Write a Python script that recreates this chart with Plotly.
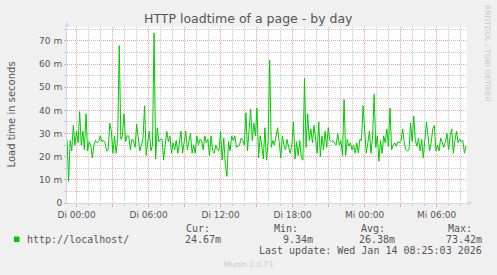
import pandas as pd
import plotly.graph_objects as go

# ---- data (milliseconds), 4 consecutive segments ----
seg1 = [27.5, 9.34, 27, 22.5, 33.5, 25, 31, 26, 39.5, 25, 31, 23, 38.5, 22.5, 26.5, 25,
        19.5, 25, 27, 26, 26.5, 29, 26.5, 27, 26, 22.5, 23, 34.5, 31, 21.5, 29, 21.5,
        27.5, 68, 27.5, 29, 38.5, 26.5, 29, 29, 23, 27.5, 27, 24, 34, 29, 22.5, 25, 28,
        42, 20.5, 26.5, 31, 22.5, 25, 73.42, 19, 32.5, 26.5, 27.5, 27.5, 18.5, 24, 31, 26.5]
seg2 = [29, 21.5, 26, 23, 27, 21.5, 26, 31, 21.5, 26.5, 31, 23, 27.5, 30, 21.5, 25, 21.5,
        29, 25, 27.5, 27, 23, 29, 26, 27.5, 20.5, 29, 22.5, 21.5, 25, 23, 22.5, 31, 18.5,
        28, 16.5, 11.5, 26.5, 22.5, 29, 27, 29, 24, 24.5, 25, 28, 27, 25, 39, 22.5, 31,
        40.5, 27, 34.5, 29, 41, 19.5, 29, 25, 19, 32.5, 18.5, 26.5]
seg3 = [61.7, 24, 27, 25, 29, 32.5, 26.5, 19.5, 29, 25, 23, 27.5, 24, 21.5, 25, 35, 19,
        26.5, 20.5, 27, 19.5, 18.5, 53.8, 24, 38.5, 27, 32, 26, 33.5, 26, 21.5, 35, 20,
        29, 23, 31, 24, 32.5, 27, 26.5, 27, 26, 25, 30, 25, 27, 20.5, 44.7, 20.5, 27.5,
        24.5, 26, 23, 25, 21.5, 26, 21.5, 27.5, 27, 42, 29, 21.5]
seg4 = [26, 31, 21.5, 29, 47, 24, 29, 18, 27, 21.5, 29, 26, 32, 24.5, 41, 23, 25, 26,
        24.5, 26.5, 26, 27, 32, 26, 23, 22.5, 23, 34.5, 26.5, 37.5, 27, 24.5, 28, 22.5,
        27.5, 19.5, 27, 35, 29, 22.5, 26, 32, 33.5, 22.5, 25, 22.5, 28, 26, 24, 26.5, 30,
        23, 29, 32, 21.5, 27, 31, 26, 27.5, 26.5, 27, 21.5, 24.67]
load_ms = seg1 + seg2 + seg3 + seg4

t_start = pd.Timestamp("2026-01-12 23:12")
t_end = pd.Timestamp("2026-01-14 08:32")
times = pd.date_range(t_start, t_end - pd.Timedelta(minutes=5), periods=len(load_ms))

x_tick_times = pd.date_range("2026-01-13 00:00", "2026-01-14 06:00", freq="3h")
x_tick_labels = ["Di 00:00", "", "Di 06:00", "", "Di 12:00", "", "Di 18:00", "",
                 "Mi 00:00", "", "Mi 06:00"]
y_tick_vals = [0, 10, 20, 30, 40, 50, 60, 70]
y_tick_labels = ["0", "10 m", "20 m", "30 m", "40 m", "50 m", "60 m", "70 m"]

series_name = "http://localhost/"
stat_names = ["Cur:", "Min:", "Avg:", "Max:"]
stat_values = ["24.67m", "9.34m", "26.38m", "73.42m"]
last_update = "Last update: Wed Jan 14 08:25:03 2026"

# ---- figure ----
W, H = 497, 275
L, R, T, B = 67, 467, 27, 203


def px(x):
    return (x - L) / (R - L)


def py(y):
    return (B - y) / (B - T)


RED = "#F0A0A0"
GRAY = "#C8C8C8"
AXIS = "#CFD6F8"
FONT = "#555555"

fig = go.Figure()
fig.add_trace(go.Scatter(x=times, y=load_ms, mode="lines",
                         line=dict(color="#00CC00", width=1), name=series_name,
                         showlegend=False))

fig.update_layout(
    width=W, height=H,
    margin=dict(l=L, r=W - R, t=T, b=H - B, pad=0),
    paper_bgcolor="#F0F0F0", plot_bgcolor="#FFFFFF",
    font=dict(family="DejaVu Sans", color=FONT, size=9),
)
fig.update_xaxes(
    range=[t_start, t_end], tickmode="array", tickvals=x_tick_times, ticktext=x_tick_labels,
    showgrid=True, gridcolor=RED, griddash="1px,1px", gridwidth=1,
    ticks="outside", ticklen=3, tickcolor=RED,
    showline=True, linecolor=AXIS, linewidth=1, zeroline=False,
    tickfont=dict(family="DejaVu Sans", size=9, color=FONT),
    minor=dict(tickmode="linear", tick0="2026-01-13 00:00", dtick=3600000,
               showgrid=True, gridcolor=GRAY, griddash="1px,1px", gridwidth=1,
               ticks="outside", ticklen=2, tickcolor=GRAY),
)
fig.update_yaxes(
    range=[0, 76], tickmode="array", tickvals=y_tick_vals, ticktext=y_tick_labels,
    showgrid=True, gridcolor=RED, griddash="1px,1px", gridwidth=1,
    ticks="outside", ticklen=2, tickcolor=RED,
    showline=True, linecolor=AXIS, linewidth=1, zeroline=False,
    tickfont=dict(family="DejaVu Sans", size=9, color=FONT),
    minor=dict(tickmode="linear", tick0=0, dtick=5, showgrid=True, gridcolor=GRAY,
               griddash="1px,1px", gridwidth=1, ticks="outside", ticklen=2, tickcolor=GRAY),
)

shapes = [
    # axis arrows
    dict(type="path", xref="paper", yref="paper",
         path=f"M {px(64.5)} {py(26.5)} L {px(69.5)} {py(26.5)} L {px(67)} {py(21.5)} Z",
         fillcolor=AXIS, line=dict(width=0)),
    dict(type="path", xref="paper", yref="paper",
         path=f"M {px(467.5)} {py(200.5)} L {px(467.5)} {py(205.5)} L {px(472.5)} {py(203)} Z",
         fillcolor=AXIS, line=dict(width=0)),
    # legend swatch
    dict(type="rect", xref="paper", yref="paper", x0=px(14), x1=px(19.5), y0=py(242), y1=py(236.5),
         fillcolor="#00CC00", line=dict(width=0)),
]

ann = []


def text(x, y, s, size=10, family="DejaVu Sans Mono", color=FONT, xanchor="left", angle=0):
    ann.append(dict(x=px(x), y=py(y), xref="paper", yref="paper", text=s, showarrow=False,
                    xanchor=xanchor, yanchor="middle", textangle=angle,
                    font=dict(family=family, size=size, color=color), borderpad=0))


text(248.5, 18.5, "HTTP loadtime of a page - by day", size=12.5, family="DejaVu Sans",
     color=FONT, xanchor="center")
text(10.5, 115, "Load time in seconds", size=10, family="DejaVu Sans", xanchor="center", angle=-90)
text(488, 53, "RRDTOOL / TOBI OETIKER", size=7.5, family="DejaVu Sans", color="#C8C8C8",
     xanchor="center", angle=90)
text(26, 239.3, series_name)
stat_left = [185, 272.5, 360, 446.5]
stat_value_right = [221.5, 313.5, 396, 482.5]
for xl, xr, n, v in zip(stat_left, stat_value_right, stat_names, stat_values):
    text(xl, 228.3, n)
    text(xr, 239.3, v, xanchor="right")
text(482.5, 250.8, last_update, xanchor="right")
text(248, 264, "Munin 2.0.73", size=7.5, family="DejaVu Sans", color="#C8C8C8", xanchor="center")

fig.update_layout(shapes=shapes, annotations=ann)
fig.write_html("out.html")
